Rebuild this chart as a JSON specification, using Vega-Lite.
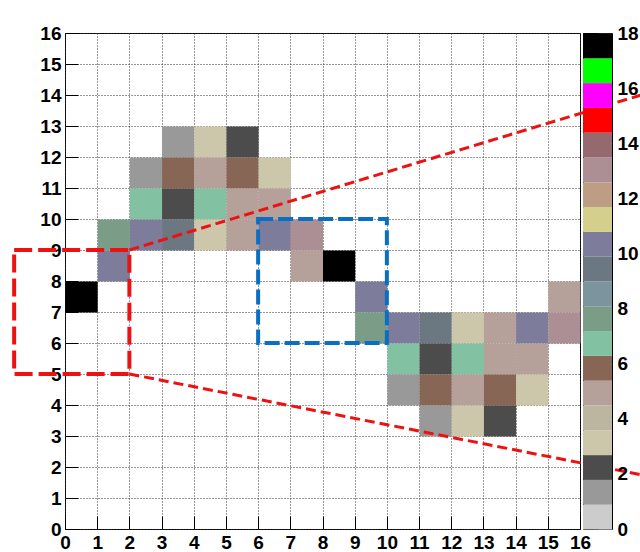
{
  "$schema": "https://vega.github.io/schema/vega-lite/v6.json",
  "background": "white",
  "padding": {"left": 11, "top": 23, "right": 0, "bottom": 0},
  "bounds": "flush",
  "spacing": 3,
  "resolve": {"scale": {"color": "shared"}},
  "config": {
    "view": {"stroke": "black", "strokeWidth": 1},
    "axis": {
      "labelFont": "Liberation Sans",
      "labelFontWeight": "bold",
      "labelFontSize": 19,
      "labelColor": "black",
      "domainColor": "black",
      "tickColor": "black",
      "ticks": true,
      "tickWidth": 1,
      "tickOpacity": 1,
      "title": null,
      "zindex": 1
    }
  },
  "datasets": {
    "cells": [
      {"x": 3, "y": 12, "v": 1}, {"x": 4, "y": 12, "v": 3}, {"x": 5, "y": 12, "v": 2},
      {"x": 2, "y": 11, "v": 1}, {"x": 3, "y": 11, "v": 6}, {"x": 4, "y": 11, "v": 5}, {"x": 5, "y": 11, "v": 6}, {"x": 6, "y": 11, "v": 3},
      {"x": 2, "y": 10, "v": 7}, {"x": 3, "y": 10, "v": 2}, {"x": 4, "y": 10, "v": 7}, {"x": 5, "y": 10, "v": 5}, {"x": 6, "y": 10, "v": 5},
      {"x": 1, "y": 9, "v": 8}, {"x": 2, "y": 9, "v": 10}, {"x": 3, "y": 9, "v": 9}, {"x": 4, "y": 9, "v": 3}, {"x": 5, "y": 9, "v": 5}, {"x": 6, "y": 9, "v": 10}, {"x": 7, "y": 9, "v": 13},
      {"x": 1, "y": 8, "v": 10}, {"x": 7, "y": 8, "v": 5}, {"x": 8, "y": 8, "v": 18},
      {"x": 0, "y": 7, "v": 18}, {"x": 9, "y": 7, "v": 10}, {"x": 15, "y": 7, "v": 5},
      {"x": 9, "y": 6, "v": 8}, {"x": 10, "y": 6, "v": 10}, {"x": 11, "y": 6, "v": 9}, {"x": 12, "y": 6, "v": 3}, {"x": 13, "y": 6, "v": 5}, {"x": 14, "y": 6, "v": 10}, {"x": 15, "y": 6, "v": 13},
      {"x": 10, "y": 5, "v": 7}, {"x": 11, "y": 5, "v": 2}, {"x": 12, "y": 5, "v": 7}, {"x": 13, "y": 5, "v": 5}, {"x": 14, "y": 5, "v": 5},
      {"x": 10, "y": 4, "v": 1}, {"x": 11, "y": 4, "v": 6}, {"x": 12, "y": 4, "v": 5}, {"x": 13, "y": 4, "v": 6}, {"x": 14, "y": 4, "v": 3},
      {"x": 11, "y": 3, "v": 1}, {"x": 12, "y": 3, "v": 3}, {"x": 13, "y": 3, "v": 2}
    ],
    "bands": [
      {"lo": 0}, {"lo": 0.9}, {"lo": 1.8}, {"lo": 2.7}, {"lo": 3.6}, {"lo": 4.5}, {"lo": 5.4}, {"lo": 6.3}, {"lo": 7.2}, {"lo": 8.1},
      {"lo": 9}, {"lo": 9.9}, {"lo": 10.8}, {"lo": 11.7}, {"lo": 12.6}, {"lo": 13.5}, {"lo": 14.4}, {"lo": 15.3}, {"lo": 16.2}, {"lo": 17.1}
    ],
    "lines": [
      {"seg": "upper", "x": 2, "y": 9}, {"seg": "upper", "x": 17.9, "y": 14},
      {"seg": "lower", "x": 2, "y": 5}, {"seg": "lower", "x": 17.9, "y": 1.75}
    ]
  },
  "hconcat": [
    {
      "width": 515,
      "height": 496,
      "layer": [
        {
          "data": {"name": "cells"},
          "mark": {"type": "rect", "binSpacing": 0},
          "encoding": {
            "x": {
              "field": "x", "type": "quantitative", "bin": {"binned": true, "step": 1},
              "scale": {"domain": [0, 16], "nice": false, "zero": false},
              "axis": {
                "tickCount": 80,
                "format": "d",
                "ticks": true,
                "labelOverlap": false,
                "labelFlush": false,
                "labelExpr": "datum.value % 1 === 0 ? datum.label : ''",
                "offset": -13,
                "tickSize": 13,
                "tickDash": {"condition": {"test": "datum.value % 1 === 0", "value": [13, 0]}, "value": [0, 7, 6, 0]},
                "domain": false,
                "labelPadding": 4,
                "grid": true,
                "gridDash": [1, 2],
                "gridColor": "#333333",
                "gridOpacity": {"condition": {"test": "datum.value % 1 === 0", "value": 1}, "value": 0}
              }
            },
            "y": {
              "field": "y", "type": "quantitative", "bin": {"binned": true, "step": 1},
              "scale": {"domain": [0, 16], "nice": false, "zero": false},
              "axis": {
                "tickCount": 80,
                "format": "d",
                "ticks": true,
                "labelOverlap": false,
                "labelFlush": false,
                "labelExpr": "datum.value % 1 === 0 ? datum.label : ''",
                "offset": -13,
                "tickSize": 13,
                "tickDash": {"condition": {"test": "datum.value % 1 === 0", "value": [13, 0]}, "value": [0, 7, 6, 0]},
                "domain": false,
                "labelPadding": 4,
                "grid": true,
                "gridDash": [1, 2],
                "gridColor": "#333333",
                "gridOpacity": {"condition": {"test": "datum.value % 1 === 0", "value": 1}, "value": 0}
              }
            },
            "color": {
              "field": "v", "type": "quantitative",
              "scale": {
                "type": "threshold",
                "domain": [0.9, 1.8, 2.7, 3.6, 4.5, 5.4, 6.3, 7.2, 8.1, 9, 9.9, 10.8, 11.7, 12.6, 13.5, 14.4, 15.3, 16.2, 17.1],
                "range": ["#cccccc", "#999999", "#4c4c4c", "#ccc7aa", "#bcb6a0", "#b6a19a", "#876656", "#82c2a3", "#7b9c87", "#7b949e", "#6b7781", "#7d7d9b", "#d4cf8a", "#bd9e84", "#ab8f94", "#946970", "#ff0000", "#ff00ff", "#00ff00", "#000000"]
              },
              "legend": null
            }
          }
        },
        {
          "data": {"values": [{}]},
          "mark": {"type": "rect", "fill": null, "filled": false, "stroke": "#ee1111", "strokeWidth": 4, "strokeDash": [18, 6]},
          "encoding": {
            "x": {"datum": -1.58, "type": "quantitative"},
            "x2": {"datum": 2},
            "y": {"datum": 5, "type": "quantitative"},
            "y2": {"datum": 9}
          }
        },
        {
          "data": {"values": [{}]},
          "mark": {"type": "rect", "fill": null, "filled": false, "stroke": "#0a6fc2", "strokeWidth": 4, "strokeDash": [15, 5]},
          "encoding": {
            "x": {"datum": 6, "type": "quantitative"},
            "x2": {"datum": 10},
            "y": {"datum": 6, "type": "quantitative"},
            "y2": {"datum": 10}
          }
        },
        {
          "data": {"name": "lines"},
          "mark": {"type": "line", "color": "#ee1111", "strokeWidth": 3, "strokeDash": [10, 5], "clip": false},
          "encoding": {
            "x": {"field": "x", "type": "quantitative"},
            "y": {"field": "y", "type": "quantitative"},
            "detail": {"field": "seg"}
          }
        }
      ]
    },
    {
      "width": 29,
      "height": 496,
      "data": {"name": "bands"},
      "mark": {"type": "rect", "binSpacing": 0},
      "encoding": {
        "y": {
          "field": "lo", "type": "quantitative", "bin": {"binned": true, "step": 0.9},
          "scale": {"domain": [0, 18], "nice": false, "zero": false},
          "axis": {
            "orient": "right",
            "values": [0, 2, 4, 6, 8, 10, 12, 14, 16, 18],
            "format": "d",
            "ticks": true,
            "offset": -14,
            "tickSize": 14,
            "tickColor": "#333333",
            "labelPadding": 5,
            "labelFlush": false,
            "domain": false,
            "grid": false
          }
        },
        "color": {
          "field": "lo", "type": "quantitative",
          "scale": {
            "type": "threshold",
            "domain": [0.9, 1.8, 2.7, 3.6, 4.5, 5.4, 6.3, 7.2, 8.1, 9, 9.9, 10.8, 11.7, 12.6, 13.5, 14.4, 15.3, 16.2, 17.1],
            "range": ["#cccccc", "#999999", "#4c4c4c", "#ccc7aa", "#bcb6a0", "#b6a19a", "#876656", "#82c2a3", "#7b9c87", "#7b949e", "#6b7781", "#7d7d9b", "#d4cf8a", "#bd9e84", "#ab8f94", "#946970", "#ff0000", "#ff00ff", "#00ff00", "#000000"]
          },
          "legend": null
        }
      }
    }
  ]
}
